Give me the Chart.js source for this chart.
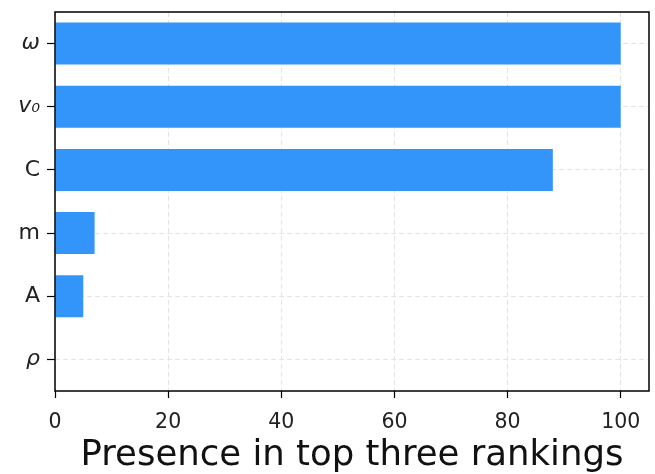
<!DOCTYPE html>
<html>
<head>
<meta charset="utf-8">
<script src="https://cdn.jsdelivr.net/npm/chart.js@4.4.1/dist/chart.umd.min.js"></script>
<style>
  html, body { margin: 0; padding: 0; background: #fff; }
  #wrap { width: 655px; height: 474px; }
</style>
</head>
<body>
<div id="wrap"><canvas id="rank-chart"></canvas></div>
<script>
// parameters and how often each one lands in the top three
const params = ['ω', 'v₀', 'C', 'm', 'A', 'ρ'];
const presence = [100, 100, 88, 7, 5, 0];
const italicParams = ['ω', 'v₀', 'ρ'];
const xTicks = [0, 20, 40, 60, 80, 100];

// matplotlib-like frame round the plot area
const frame = {
  id: 'frame',
  afterDatasetsDraw(chart) {
    const { ctx, chartArea: a } = chart;
    ctx.save();
    ctx.strokeStyle = '#000';
    ctx.lineWidth = 1.5;
    ctx.strokeRect(a.left, a.top, a.right - a.left, a.bottom - a.top);
    ctx.restore();
  }
};

new Chart(document.getElementById('rank-chart'), {
  type: 'bar',
  data: {
    labels: params,
    datasets: [{
      data: presence,
      backgroundColor: '#3395fa',
      borderWidth: 0,
      barPercentage: 0.7,
      categoryPercentage: 0.95
    }]
  },
  options: {
    indexAxis: 'y',
    responsive: true,
    maintainAspectRatio: false,
    animation: false,
    layout: { padding: { top: 12, right: 6, left: 0, bottom: 0 } },
    plugins: { legend: { display: false }, tooltip: { enabled: false } },
    scales: {
      x: {
        min: 0,
        max: 105,
        afterBuildTicks: s => { s.ticks = xTicks.map(v => ({ value: v })); },
        afterFit: s => { s.height = 83; },
        border: { display: false, dash: [5, 3] },
        grid: {
          color: '#e3e3e3',
          tickColor: '#000',
          tickBorderDash: [],
          tickLength: 7,
          tickWidth: 1.2
        },
        ticks: {
          color: '#222',
          padding: 12,
          font: { family: 'DejaVu Sans', size: 20.5 }
        },
        title: {
          display: true,
          text: 'Presence in top three rankings',
          color: '#111',
          padding: { top: 0, bottom: -3 },
          font: { family: 'DejaVu Sans', size: 35.5 }
        }
      },
      y: {
        afterFit: s => { s.width = 55; s.paddingTop = 0; s.paddingBottom = 0; },
        border: { display: false, dash: [5, 3] },
        grid: {
          offset: false,
          color: '#e3e3e3',
          tickColor: '#000',
          tickBorderDash: [],
          tickLength: 8,
          tickWidth: 1.2
        },
        ticks: {
          color: '#222',
          padding: 7,
          font: ctx => ({
            family: 'DejaVu Sans',
            size: 22,
            style: italicParams.includes(params[ctx.index]) ? 'italic' : 'normal'
          })
        }
      }
    }
  },
  plugins: [frame]
});
</script>
</body>
</html>
